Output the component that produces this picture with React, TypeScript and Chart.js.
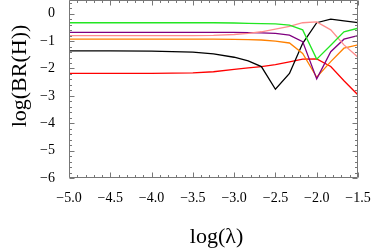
import React, { useEffect, useRef } from "react";
import { Chart, registerables } from "chart.js";

Chart.register(...registerables);

const xs = [-5.0, -4.5, -4.0, -3.5, -3.25, -3.0, -2.83, -2.67, -2.5, -2.33, -2.17, -2.0, -1.83, -1.67, -1.5, -1.49];

const green = [-0.33, -0.33, -0.33, -0.33, -0.33, -0.34, -0.35, -0.36, -0.37, -0.42, -0.59, -1.66, -1.15, -0.66, -0.53, -0.80];
const pink = [-0.80, -0.80, -0.80, -0.80, -0.79, -0.76, -0.72, -0.66, -0.56, -0.46, -0.33, -0.30, -0.59, -1.14, -1.59, -2.00];
const purple = [-0.68, -0.68, -0.68, -0.68, -0.68, -0.68, -0.69, -0.70, -0.72, -0.78, -1.02, -2.38, -1.39, -0.93, -0.80, -1.08];
const orange = [-0.93, -0.93, -0.93, -0.93, -0.93, -0.94, -0.95, -0.96, -1.00, -1.07, -1.45, -2.32, -1.75, -1.26, -1.14, -1.35];
const black = [-1.36, -1.36, -1.37, -1.40, -1.47, -1.59, -1.72, -1.93, -2.76, -2.18, -1.08, -0.33, -0.20, -0.26, -0.33, -0.75];
const red = [-2.18, -2.18, -2.18, -2.16, -2.12, -2.03, -1.98, -1.93, -1.86, -1.76, -1.66, -1.65, -1.93, -2.45, -2.97, -3.30];

const seriesNames = ["green", "pink", "purple", "orange", "black", "red"];
const seriesValues = [green, pink, purple, orange, black, red];
const seriesColors = ["#22e622", "#ff8c8c", "#800080", "#ff8000", "#000000", "#ff0000"];

const xTicks = [-5.0, -4.5, -4.0, -3.5, -3.0, -2.5, -2.0, -1.5];
const yTicks = [-6, -5, -4, -3, -2, -1, 0];
const xLabel = "log(λ)";
const yLabel = "log(BR(H))";

const fmt = (v: number, d: number) => {
  const s = Math.abs(v).toFixed(d);
  return v < 0 ? "\u2212" + s : s;
};

const framePlugin = {
  id: "frame",
  afterDraw(chart: any) {
    const { ctx, chartArea, scales } = chart;
    const { left, right, top, bottom } = chartArea;
    const x = scales.x;
    const y = scales.y;
    ctx.save();
    ctx.strokeStyle = "#777";
    ctx.lineWidth = 1;
    const L = Math.round(left) + 0.5;
    const R = Math.round(right) - 0.5;
    const T = Math.round(top) + 0.5;
    const B = Math.round(bottom) - 0.5;
    ctx.beginPath();
    ctx.rect(L, T, R - L, B - T);
    ctx.stroke();
    ctx.beginPath();
    for (let i = 0; i <= 35; i++) {
      const v = -5 + i * 0.1;
      const major = i % 5 === 0;
      const len = major ? 5 : 2.5;
      const px = Math.round(x.getPixelForValue(v)) + 0.5;
      ctx.moveTo(px, B);
      ctx.lineTo(px, B - len);
      ctx.moveTo(px, T);
      ctx.lineTo(px, T + len);
    }
    for (let i = 0; i <= 32; i++) {
      const v = -6 + i * 0.2;
      const major = i % 5 === 0;
      const len = major ? 5 : 2.5;
      const py = Math.round(y.getPixelForValue(v)) + 0.5;
      ctx.moveTo(L, py);
      ctx.lineTo(L + len, py);
      ctx.moveTo(R, py);
      ctx.lineTo(R - len, py);
    }
    ctx.stroke();

    ctx.fillStyle = "#000";
    ctx.font = "22px 'Liberation Serif'";
    ctx.textAlign = "center";
    ctx.textBaseline = "middle";
    ctx.fillText(xLabel, (left + right) / 2 + 3, 237);
    ctx.translate(20, 76);
    ctx.rotate(-Math.PI / 2);
    ctx.fillText(yLabel, 0, 0);
    ctx.restore();
  },
};

export default function App() {
  const ref = useRef<HTMLCanvasElement | null>(null);
  useEffect(() => {
    document.body.style.margin = "0";
    const canvas = ref.current;
    if (!canvas) return;
    const chart = new Chart(canvas, {
      type: "line",
      data: {
        datasets: seriesValues.map((vals, i) => ({
          label: seriesNames[i],
          data: xs.map((xv, j) => ({ x: xv, y: vals[j] })),
          borderColor: seriesColors[i],
          borderWidth: 1.3,
          pointRadius: 0,
          fill: false,
          tension: 0,
          clip: 0,
        })),
      },
      options: {
        animation: false,
        responsive: false,
        maintainAspectRatio: false,
        events: [],
        layout: { padding: { left: 0, right: 16, top: 0, bottom: 0 } },
        plugins: { legend: { display: false }, tooltip: { enabled: false } },
        scales: {
          x: {
            type: "linear",
            min: -5,
            max: -1.5,
            grid: { display: false },
            border: { display: false },
            afterBuildTicks: (s: any) => {
              s.ticks = xTicks.map((v) => ({ value: v }));
            },
            afterFit: (s: any) => {
              s.height = 71;
              s.paddingLeft = 0;
              s.paddingRight = 0;
            },
            ticks: {
              autoSkip: false,
              maxRotation: 0,
              padding: 4,
              color: "#000",
              font: { family: "'Liberation Serif'", size: 14 },
              callback: (v: any) => fmt(Number(v), 1),
            },
          },
          y: {
            type: "linear",
            min: -6,
            max: 0.5,
            grid: { display: false },
            border: { display: false },
            afterBuildTicks: (s: any) => {
              s.ticks = yTicks.map((v) => ({ value: v }));
            },
            afterFit: (s: any) => {
              s.width = 69;
              s.paddingTop = 0;
              s.paddingBottom = 0;
            },
            ticks: {
              autoSkip: false,
              padding: 6,
              color: "#000",
              font: { family: "'Liberation Serif'", size: 14 },
              callback: (v: any) => fmt(Number(v), 0),
            },
          },
        },
      },
      plugins: [framePlugin],
    });
    return () => chart.destroy();
  }, []);
  return (
    <div style={{ width: 374, height: 249 }}>
      <canvas ref={ref} width={374} height={249} style={{ display: "block" }} />
    </div>
  );
}
